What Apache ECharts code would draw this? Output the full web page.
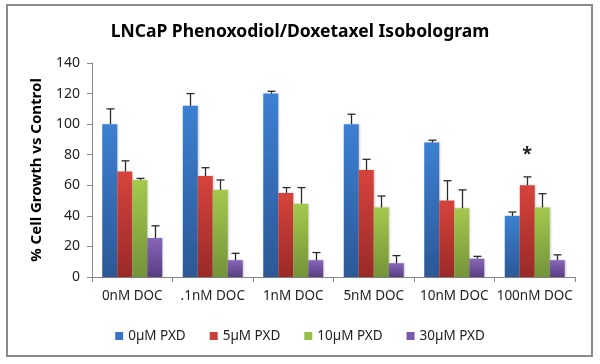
<!DOCTYPE html>
<html>
<head>
<meta charset="utf-8">
<script src="https://cdn.jsdelivr.net/npm/echarts@6/dist/echarts.min.js"></script>
<style>
  html, body { margin: 0; padding: 0; background: #fff; }
  #chart { width: 600px; height: 364px; }
</style>
</head>
<body>
<div id="chart"></div>
<script>
const categories = ['0nM DOC', '.1nM DOC', '1nM DOC', '5nM DOC', '10nM DOC', '100nM DOC']
const seriesNames = ['0µM PXD', '5µM PXD', '10µM PXD', '30µM PXD']
const pxd0 = [100, 112, 120, 100, 88, 40]
const pxd5 = [69, 66, 55, 70, 50, 60]
const pxd10 = [63.5, 57, 48, 45.5, 45, 45.5]
const pxd30 = [25.5, 11, 11, 9, 12, 11]
// top of the error bar for each value
const err0 = [110, 120, 121.5, 106.5, 89.5, 42.5]
const err5 = [76, 71.5, 58.5, 77, 63, 65.5]
const err10 = [64.5, 63.5, 58.5, 53, 57, 54.5]
const err30 = [33.5, 15.5, 16, 14, 13.5, 14.5]
const yTicks = [0, 20, 40, 60, 80, 100, 120, 140]

const values = [pxd0, pxd5, pxd10, pxd30]
const errors = [err0, err5, err10, err30]
const gradients = [
    ['#3c80d2', '#2c5896'],
    ['#d6443c', '#9a2a27'],
    ['#a5c94d', '#739338'],
    ['#8866b8', '#583e83']
]
const solid = ['#3874c8', '#c8403a', '#98bf48', '#7a5aa8']
const barW = 15

const font = 'Noto Sans'
const chart = echarts.init(document.getElementById('chart'))

const barSeries = values.map((v, i) => ({
    name: seriesNames[i],
    type: 'bar',
    barWidth: barW,
    barGap: 0,
    data: v,
    itemStyle: {
        color: new echarts.graphic.LinearGradient(0, 0, 0, 1, [
            { offset: 0, color: gradients[i][0] },
            { offset: 1, color: gradients[i][1] }
        ]),
        shadowColor: 'rgba(0,0,0,0.18)',
        shadowBlur: 2,
        shadowOffsetX: 1
    },
    markPoint: i === 1 ? {
        symbolSize: 0,
        data: [{ coord: [5, 80] }],
        label: {
            show: true, formatter: '*', color: '#222', fontSize: 18,
            fontWeight: 'bold', fontFamily: font
        }
    } : undefined
}))

const errSeries = values.map((v, i) => ({
    type: 'custom',
    silent: true,
    z: 5,
    data: v.map((val, k) => [k, val, errors[i][k]]),
    renderItem: (params, api) => {
        const off = (i - 1.5) * barW
        const base = api.coord([api.value(0), api.value(1)])
        const top = api.coord([api.value(0), api.value(2)])
        const x = Math.round(base[0] + off) + 0.5
        const style = { stroke: '#2a2a2a', lineWidth: 1.3 }
        return {
            type: 'group',
            children: [
                { type: 'line', shape: { x1: x, y1: base[1], x2: x, y2: top[1] }, style },
                { type: 'line', shape: { x1: x - 4, y1: top[1], x2: x + 4, y2: top[1] }, style }
            ]
        }
    }
}))

chart.setOption({
    animation: false,
    title: {
        text: 'LNCaP Phenoxodiol/Doxetaxel Isobologram',
        left: 'center',
        top: 18,
        textStyle: { fontFamily: font, fontSize: 17.5, fontWeight: 'bold', color: '#000' }
    },
    graphic: [{
        type: 'rect',
        shape: { x: 7, y: 5, width: 585, height: 351 },
        style: { fill: 'none', stroke: '#8a8a8a', lineWidth: 2 }
    }],
    legend: {
        data: seriesNames.map((n, i) => ({ name: n, itemStyle: { color: solid[i] } })),
        left: 'center',
        top: 324,
        icon: 'rect',
        itemWidth: 8,
        itemHeight: 8,
        itemGap: 24,
        textStyle: { fontFamily: font, fontSize: 13.5, color: '#222' }
    },
    grid: { left: 92, right: 25, top: 63, bottom: 87 },
    xAxis: {
        type: 'category',
        data: categories,
        axisLine: { lineStyle: { color: '#888' } },
        axisTick: { show: true, length: 5, lineStyle: { color: '#888' } },
        axisLabel: { fontFamily: font, fontSize: 13.5, color: '#222', margin: 12, interval: 0 }
    },
    yAxis: {
        type: 'value',
        min: yTicks[0],
        max: yTicks[yTicks.length - 1],
        interval: 20,
        name: '% Cell Growth vs Control',
        nameLocation: 'middle',
        nameGap: 48,
        nameTextStyle: { fontFamily: font, fontSize: 15, fontWeight: 'bold', color: '#000' },
        axisLine: { show: true, lineStyle: { color: '#888' } },
        axisTick: { show: true, length: 5, lineStyle: { color: '#888' } },
        splitLine: { show: false },
        axisLabel: { fontFamily: font, fontSize: 14, color: '#222', margin: 12 }
    },
    series: [...barSeries, ...errSeries]
})
</script>
</body>
</html>
